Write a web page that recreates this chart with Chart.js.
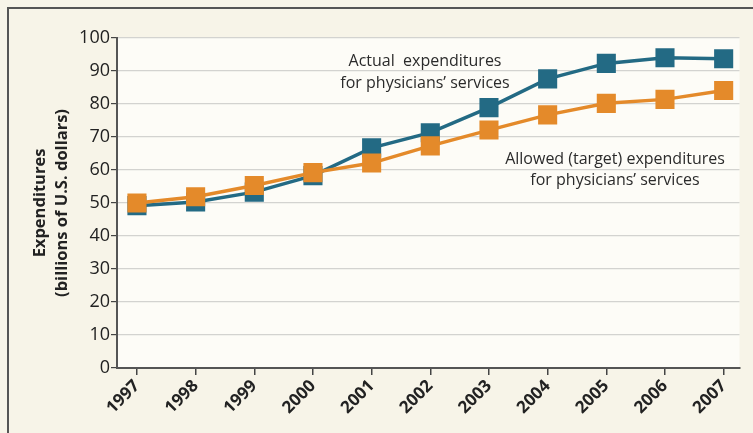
<!DOCTYPE html>
<html>
<head>
<meta charset="utf-8">
<script src="https://cdn.jsdelivr.net/npm/chart.js@4/dist/chart.umd.min.js"></script>
<style>
	html, body { margin: 0; padding: 0; background: #f7f4e8; }
	#wrap { width: 753px; height: 433px; position: relative; }
</style>
</head>
<body>
<div id="wrap"><canvas id="chart1" width="753" height="433"></canvas></div>
<script>
let years = [1997, 1998, 1999, 2000, 2001, 2002, 2003, 2004, 2005, 2006, 2007];
let actual = [49.2, 50.3, 53.3, 58.3, 66.7, 71.3, 78.9, 87.6, 92.3, 94.0, 93.7];
let allowed = [50.0, 51.9, 55.3, 59.2, 62.1, 67.3, 72.1, 76.7, 80.2, 81.4, 84.1];
let yTicks = [0, 10, 20, 30, 40, 50, 60, 70, 80, 90, 100];

let blue = "#236a84";
let orange = "#e48a2a";

// background panel, frame and the two line labels
let decor = {
	id: "decor",
	beforeDraw: function (chart) {
		let ctx = chart.ctx;
		let a = chart.chartArea;
		ctx.save();
		ctx.fillStyle = "#f7f4e8";
		ctx.fillRect(0, 0, chart.width, chart.height);
		ctx.fillStyle = "#fdfcf7";
		ctx.fillRect(a.left, a.top, a.right - a.left, a.bottom - a.top);
		ctx.strokeStyle = "#555";
		ctx.lineWidth = 2;
		ctx.beginPath();
		ctx.moveTo(8, chart.height);
		ctx.lineTo(8, 8);
		ctx.lineTo(chart.width, 8);
		ctx.stroke();
		ctx.restore();
	},
	afterDatasetsDraw: function (chart) {
		let ctx = chart.ctx;
		ctx.save();
		ctx.fillStyle = "#2b2b2b";
		ctx.font = "16px 'Open Sans', sans-serif";
		ctx.textAlign = "center";
		ctx.textBaseline = "middle";
		ctx.fillText("Actual  expenditures", 425, 61);
		ctx.fillText("for physicians\u2019 services", 425, 83);
		ctx.fillText("Allowed (target) expenditures", 615, 159);
		ctx.fillText("for physicians\u2019 services", 615, 180);
		ctx.restore();
	},
};

let spend = new Chart(document.getElementById("chart1"), {
	type: "line",
	data: {
		datasets: [
			{
				label: "Actual",
				data: years.map((y, i) => ({ x: y, y: actual[i] })),
				borderColor: blue,
				backgroundColor: blue,
				borderWidth: 3.5,
				pointStyle: "rect",
				pointRadius: 13.5,
				pointBorderWidth: 0,
				tension: 0,
				order: 2,
			},
			{
				label: "Allowed",
				data: years.map((y, i) => ({ x: y, y: allowed[i] })),
				borderColor: orange,
				backgroundColor: orange,
				borderWidth: 3.5,
				pointStyle: "rect",
				pointRadius: 13.5,
				pointBorderWidth: 0,
				tension: 0,
				order: 1,
			},
		],
	},
	plugins: [decor],
	options: {
		responsive: false,
		animation: false,
		layout: { padding: { left: 0, top: 38, right: 6, bottom: 0 } },
		plugins: {
			legend: { display: false },
			tooltip: { enabled: false },
		},
		scales: {
			x: {
				type: "linear",
				min: 1996.66,
				max: 2007.27,
				afterBuildTicks: function (axis) {
					axis.ticks = years.map((v) => ({ value: v }));
				},
				afterFit: function (axis) {
					axis.height = 65;
				},
				grid: { drawOnChartArea: false, tickLength: 7, tickColor: "#444", lineWidth: 1.5 },
				border: { color: "#555", width: 2 },
				ticks: {
					color: "#222",
					font: { family: "'Open Sans', sans-serif", size: 17, weight: "bold" },
					minRotation: 45,
					maxRotation: 45,
					padding: 1,
					callback: (v) => String(v),
				},
			},
			y: {
				min: 0,
				max: 100,
				afterBuildTicks: function (axis) {
					axis.ticks = yTicks.map((v) => ({ value: v }));
				},
				afterFit: function (axis) {
					axis.width = 117;
				},
				grid: { color: "#d3d3d0", lineWidth: 1.2, tickLength: 6, tickColor: "#444" },
				border: { color: "#555", width: 2 },
				ticks: {
					color: "#222",
					font: { family: "'Open Sans', sans-serif", size: 18 },
					padding: 1,
				},
				title: {
					display: true,
					text: ["Expenditures", "(billions of U.S. dollars)"],
					color: "#222",
					font: { family: "'Open Sans', sans-serif", size: 16.5, weight: "bold", lineHeight: 1.3 },
					padding: { top: 30 },
				},
			},
		},
	},
});
</script>
</body>
</html>
